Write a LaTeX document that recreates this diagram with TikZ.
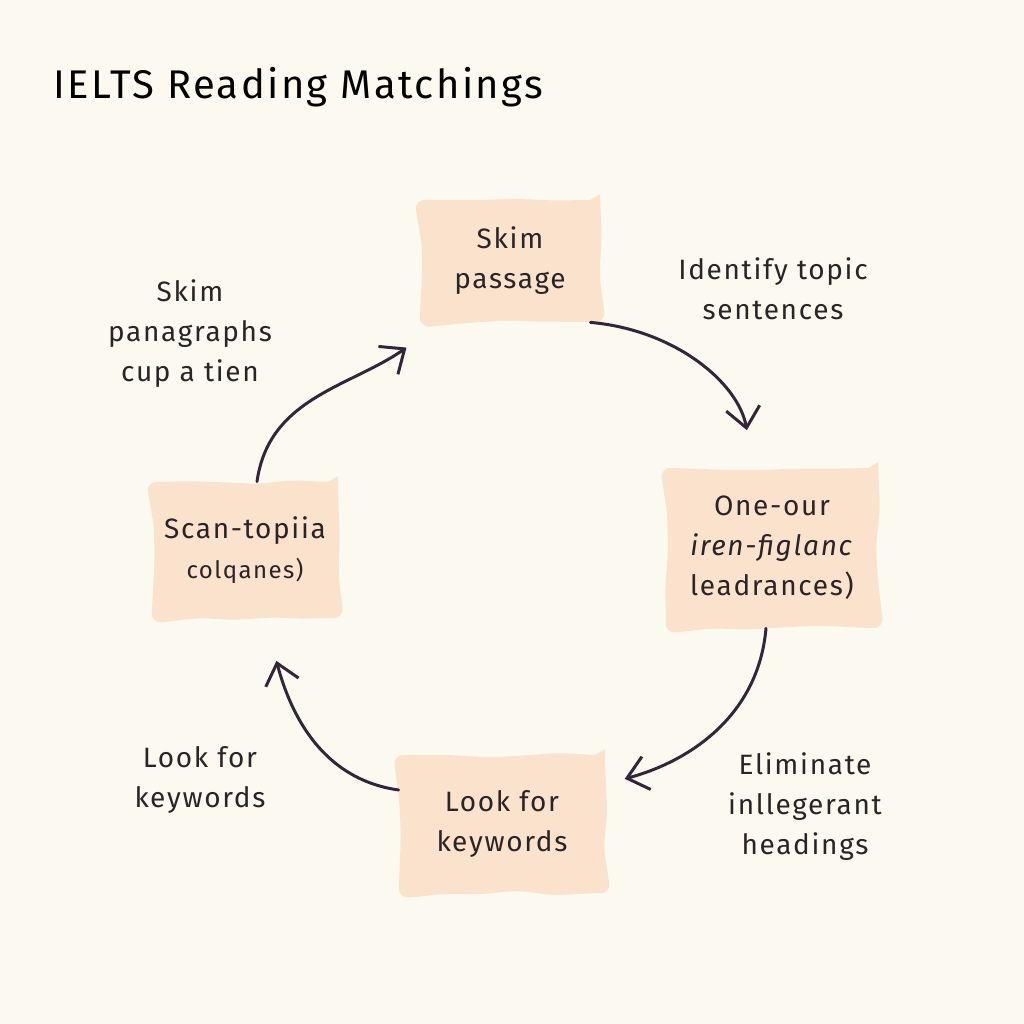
\documentclass[tikz,border=0pt]{standalone}
\usepackage{fontspec}
\setmainfont{Fira Sans}
\setsansfont[LetterSpace=6]{Fira Sans}
\usepackage{xcolor}
\usepackage{tikz}
\usetikzlibrary{arrows.meta,decorations.pathmorphing}
\definecolor{ieltsPaper}{HTML}{FCFAF0}
\definecolor{ieltsPeach}{HTML}{FAE2CD}
\definecolor{ieltsInk}{HTML}{33263A}
\definecolor{ieltsText}{HTML}{2A2328}
\tikzset{
  font=\sffamily,
  % peach note cards of the cycle
  card/.style={
    fill=ieltsPeach,
    rounded corners=5pt,
    decorate,
    decoration={random steps,segment length=18pt,amplitude=1.2pt},
    align=center,
    text=ieltsText,
    font=\sffamily\fontsize{14}{20}\selectfont
  },
  % loose notes beside the arrows
  note/.style={
    align=center,
    text=ieltsText,
    font=\sffamily\fontsize{14}{20}\selectfont
  },
  titletext/.style={
    anchor=west,
    text=black,
    font=\sffamily\fontsize{20}{24}\selectfont
  },
  flow/.style={
    -{Straight Barb[length=10pt,width=17pt,line width=1.5pt]},
    line width=1.5pt,
    draw=ieltsInk,
    line cap=round
  }
}
\pgfmathsetseed{7}
\begin{document}
\begin{tikzpicture}[x=0.5pt,y=0.5pt]

% paper
\fill[ieltsPaper] (0,0) rectangle (1024,1024);
\useasboundingbox (0,0) rectangle (1024,1024);

\node[titletext] (title) at (46,937) {IELTS Reading Matchings};

% the four cards, clockwise from the top
\node[card, minimum width=90pt, minimum height=61pt] (skim) at (510,763)
{Skim\\passage};
\node[card, minimum width=106pt, minimum height=80pt] (oneour) at (772,476)
{One-our\\\textit{iren-figlanc}\\leadrances)};
\node[card, minimum width=103pt, minimum height=69pt] (look) at (502,200)
{Look for\\keywords};
\node[card, minimum width=93pt, minimum height=68pt] (scan) at (245,474)
{Scan-topiia\\{\fontsize{12}{18}\selectfont colqanes)}};

% side notes
\node[note] (identify) at (773,735) {Identify topic\\sentences};
\node[note] (skimpar) at (190,690) {Skim\\panagraphs\\cup a tien};
\node[note] (lookleft) at (200,244) {Look for\\keywords};
\node[note] (elim) at (805,217) {Eliminate\\inllegerant\\headings};

% cycle arrows
\draw[flow, shorten >=19pt] ([xshift=-5pt]skim.south east) to[out=-5, in=100] (oneour.103);
\draw[flow, shorten >=10pt] ([xshift=-3pt]oneour.south) to[out=-95, in=15] ([yshift=20pt]look.east);
\draw[flow, shorten >=22pt] ([yshift=17pt]look.west) to[out=172, in=-75] ([xshift=10pt]scan.south);
\draw[flow, shorten >=8pt] ([xshift=6pt]scan.north) to[out=82, in=215] ([yshift=-8pt]skim.south west);

\end{tikzpicture}
\end{document}
